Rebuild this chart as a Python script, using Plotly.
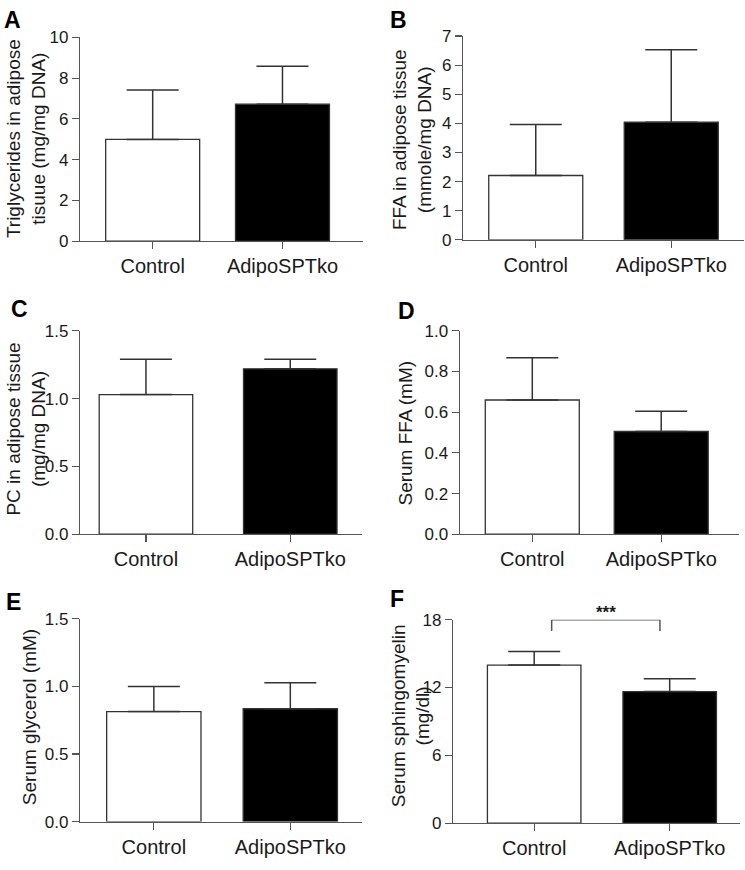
import plotly.graph_objects as go

# ---------------- data ----------------
categories = ["Control", "AdipoSPTko"]

tg_mean = [4.99, 6.72]
tg_sem = [2.43, 1.86]

ffa_tissue_mean = [2.21, 4.04]
ffa_tissue_sem = [1.75, 2.49]

pc_mean = [1.03, 1.22]
pc_sem = [0.26, 0.07]

serum_ffa_mean = [0.66, 0.505]
serum_ffa_sem = [0.207, 0.10]

glycerol_mean = [0.813, 0.834]
glycerol_sem = [0.185, 0.193]

sm_mean = [13.98, 11.64]
sm_sem = [1.21, 1.13]

significance_label = "***"

# ---------------- layout helpers ----------------
W, H = 745, 870
FONT = "Arial, Liberation Sans, sans-serif"
AX_COL = "#555555"
TXT_COL = "#1a1a1a"
bar_fill = ["white", "black"]


def px(x):
    return x / W


def py(y):
    return 1 - y / H


panels = [
    dict(letter="A", mean=tg_mean, sem=tg_sem,
         title="Triglycerides in adipose<br>tisuue (mg/mg DNA)",
         ymax=10, dtick=2, fmt="d",
         ax=(80, 362.7), ay=(237.3, 29), xr=(-0.560, 1.618), bw=0.724,
         tpos=(26, 133), lpos=(2, 11.5)),
    dict(letter="B", mean=ffa_tissue_mean, sem=ffa_tissue_sem,
         title="FFA in adipose tissue<br>(mmole/mg DNA)",
         ymax=7, dtick=1, fmt="d",
         ax=(463, 744), ay=(236, 27.7), xr=(-0.537, 1.537), bw=0.694,
         tpos=(412, 134), lpos=(388, 11.5)),
    dict(letter="C", mean=pc_mean, sem=pc_sem,
         title="PC in adipose tissue<br>(mg/mg DNA)",
         ymax=1.5, dtick=0.5, fmt=".1f",
         ax=(80, 361.7), ay=(537, 329), xr=(-0.457, 1.495), bw=0.648,
         tpos=(26, 430), lpos=(9, 306.5)),
    dict(letter="D", mean=serum_ffa_mean, sem=serum_ffa_sem,
         title="Serum FFA (mM)",
         ymax=1.0, dtick=0.2, fmt=".1f",
         ax=(459.7, 738.7), ay=(537, 329), xr=(-0.563, 1.601), bw=0.729,
         tpos=(406, 434), lpos=(396, 308.5)),
    dict(letter="E", mean=glycerol_mean, sem=glycerol_sem,
         title="Serum glycerol (mM)",
         ymax=1.5, dtick=0.5, fmt=".1f",
         ax=(80, 361.7), ay=(830.7, 623.3), xr=(-0.541, 1.523), bw=0.691,
         tpos=(29, 724), lpos=(4, 606)),
    dict(letter="F", mean=sm_mean, sem=sm_sem,
         title="Serum sphingomyelin<br>(mg/dl)",
         ymax=18, dtick=6, fmt="d",
         ax=(453, 740.3), ay=(832.3, 624.3), xr=(-0.599, 1.521), bw=0.69,
         tpos=(411, 722), lpos=(388, 603)),
]

fig = go.Figure()
layout = dict(
    width=W, height=H,
    margin=dict(l=0, r=0, t=0, b=0),
    paper_bgcolor="white", plot_bgcolor="white",
    showlegend=False,
    font=dict(family=FONT, color=TXT_COL),
    annotations=[], shapes=[],
)

for i, p in enumerate(panels, start=1):
    xa = "x" if i == 1 else f"x{i}"
    ya = "y" if i == 1 else f"y{i}"
    fig.add_trace(go.Bar(
        x=categories, y=p["mean"], width=p["bw"],
        marker=dict(color=bar_fill, line=dict(color="#333333", width=1.3)),
        error_y=dict(type="data", symmetric=False, array=p["sem"],
                     arrayminus=[0] * len(p["sem"]),
                     color="#333333", thickness=1.5, width=26),
        xaxis=xa, yaxis=ya, hoverinfo="skip",
    ))
    xkey = "xaxis" if i == 1 else f"xaxis{i}"
    ykey = "yaxis" if i == 1 else f"yaxis{i}"
    layout[xkey] = dict(
        domain=[px(p["ax"][0]), px(p["ax"][1])], anchor=ya,
        type="category", range=list(p["xr"]),
        showline=True, linecolor=AX_COL, linewidth=1.2,
        ticks="outside", ticklen=7, tickcolor=AX_COL, tickwidth=1.2,
        tickfont=dict(size=20, family=FONT, color=TXT_COL),
        showgrid=False, zeroline=False, fixedrange=True,
    )
    layout[ykey] = dict(
        domain=[py(p["ay"][0]), py(p["ay"][1])], anchor=xa,
        range=[0, p["ymax"]], tick0=0, dtick=p["dtick"], tickformat=p["fmt"],
        showline=True, linecolor=AX_COL, linewidth=1.2,
        ticks="outside", ticklen=7, tickcolor=AX_COL, tickwidth=1.2,
        tickfont=dict(size=17, family=FONT, color=TXT_COL),
        showgrid=False, zeroline=False, fixedrange=True,
    )
    # y-axis title
    layout["annotations"].append(dict(
        text=p["title"], xref="paper", yref="paper",
        x=px(p["tpos"][0]), y=py(p["tpos"][1]),
        xanchor="center", yanchor="middle", textangle=-90,
        showarrow=False, font=dict(size=19, family=FONT, color=TXT_COL),
    ))
    # panel letter
    layout["annotations"].append(dict(
        text=f"<b>{p['letter']}</b>", xref="paper", yref="paper",
        x=px(p["lpos"][0]), y=py(p["lpos"][1]),
        xanchor="left", yanchor="middle",
        showarrow=False, font=dict(size=23, family=FONT, color="black"),
    ))

# significance bracket on panel F
bx0, bx1, by_top, by_bot = 0.129, 0.928, 18, 17.0
for (x0, y0, x1, y1) in [(bx0, by_bot, bx0, by_top), (bx0, by_top, bx1, by_top), (bx1, by_top, bx1, by_bot)]:
    layout["shapes"].append(dict(type="line", xref="x6", yref="y6",
                                 x0=x0, y0=y0, x1=x1, y1=y1,
                                 line=dict(color=AX_COL, width=1.5)))
layout["annotations"].append(dict(
    text=f"<b>{significance_label}</b>", xref="x6", yref="y6",
    x=(bx0 + bx1) / 2, y=by_top, xanchor="center", yanchor="bottom",
    yshift=-4, showarrow=False, font=dict(size=17, family=FONT, color=TXT_COL),
))

fig.update_layout(**layout)
fig.write_html("out.html",
               config={"displayModeBar": False, "staticPlot": True},
               post_script="document.body.style.margin='0';document.body.style.overflow='hidden';")
